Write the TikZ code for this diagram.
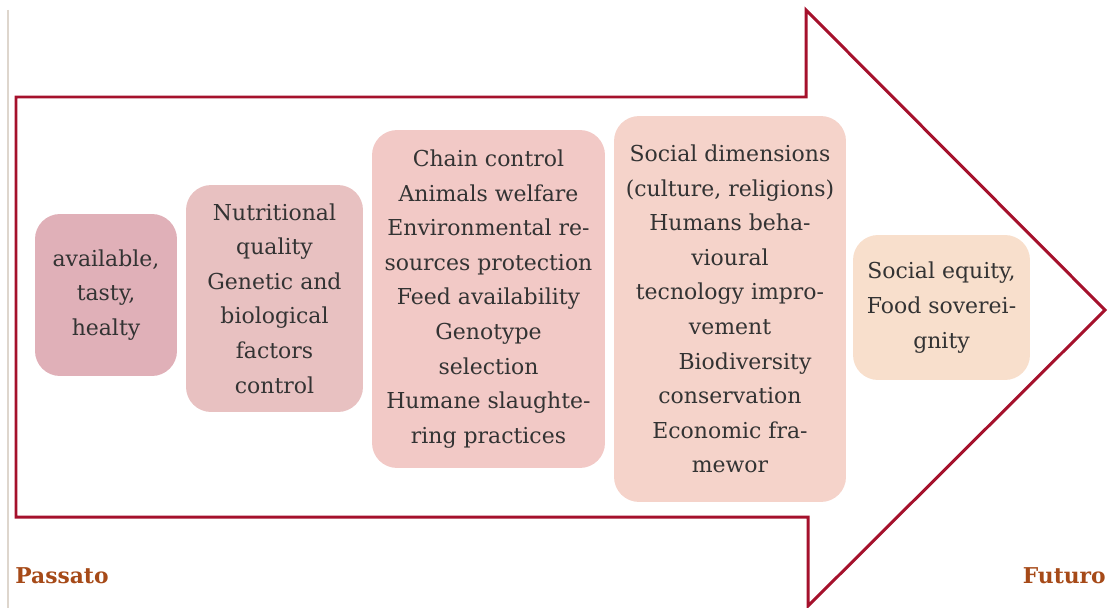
\documentclass[tikz,border=0pt]{standalone}
\usepackage{fontspec}
\setmainfont{DejaVu Serif}
\definecolor{arrowred}{HTML}{A5112C}
\definecolor{timeline}{HTML}{DED6CD}
\definecolor{epochtext}{HTML}{A64A18}
\definecolor{boxtext}{HTML}{333333}
\definecolor{fillA}{HTML}{E0B0B8}
\definecolor{fillB}{HTML}{E8C1C1}
\definecolor{fillC}{HTML}{F2C9C6}
\definecolor{fillD}{HTML}{F5D3CA}
\definecolor{fillE}{HTML}{F8DFCC}
\begin{document}
\begin{tikzpicture}[x=0.02cm, y=-0.02cm,
    stage/.style={rounded corners=0.5cm, align=center, text=boxtext,
      font=\fontsize{12.5}{19.7}\selectfont, inner sep=0pt},
    epoch/.style={text=epochtext, font=\fontsize{12.4}{20}\selectfont\bfseries, inner sep=0pt}]
    \useasboundingbox (0,0) rectangle (1108,608);

    % time line on the left
    \draw[timeline, line width=0.06cm] (8,10) -- (8,608);

    % big arrow
    \draw[arrowred, line width=0.06cm, line join=miter]
        (16,97) -- (806,97) -- (806,10) -- (1105,310) -- (808,606)
        -- (808,517) -- (16,517) -- cycle;

    % stages
    \node (s1) at (106,295) [stage, fill=fillA, minimum width=2.84cm, minimum height=3.24cm]
        {available,\\ tasty,\\ healty};
    \node (s2) at (274.5,298.5) [stage, fill=fillB, minimum width=3.54cm, minimum height=4.54cm]
        {Nutritional\\ quality\\ Genetic and\\ biological\\ factors\\ control};
    \node (s3) at (488.5,299) [stage, fill=fillC, minimum width=4.66cm, minimum height=6.76cm]
        {Chain control\\ Animals welfare\\ Environmental re-\\ sources protection\\ Feed availability\\
         Genotype\\ selection\\ Humane slaughte-\\ ring practices};
    \node (s4) at (730,309) [stage, fill=fillD, minimum width=4.64cm, minimum height=7.72cm]
        {Social dimensions\\ (culture, religions)\\ Humans beha-\\ vioural\\ tecnology impro-\\ vement\\
         \hspace*{0.6cm}Biodiversity\\ conservation\\ Economic fra-\\ mewor};
    \node (s5) at (941.5,307.5) [stage, fill=fillE, minimum width=3.54cm, minimum height=2.9cm]
        {Social equity,\\ Food soverei-\\ gnity};

    % labels
    \node (past) at (15,583) [epoch, anchor=base west] {Passato};
    \node (future) at (1106,583) [epoch, anchor=base east] {Futuro};

\end{tikzpicture}
\end{document}
